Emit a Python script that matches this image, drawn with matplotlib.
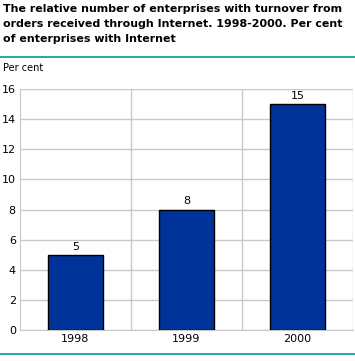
import matplotlib.pyplot as plt
from matplotlib.lines import Line2D

years = ['1998', '1999', '2000']
values = [5, 8, 15]
yticks = [0, 2, 4, 6, 8, 10, 12, 14, 16]

title = ('The relative number of enterprises with turnover from\n'
         'orders received through Internet. 1998-2000. Per cent\n'
         'of enterprises with Internet')

W, H = 355, 361
fig = plt.figure(figsize=(W / 100, H / 100), dpi=100)

ax = fig.add_axes([20 / W, 1 - 330 / H, 333 / W, (330 - 89) / H])
x = range(len(years))
bars = ax.bar(x, values, width=0.5, color='#003399', edgecolor='black', linewidth=1, zorder=3)
for b, v in zip(bars, values):
    ax.text(b.get_x() + b.get_width() / 2, v + 0.2, str(v), ha='center', va='bottom', fontsize=8)

ax.set_xlim(-0.5, len(years) - 0.5)
ax.set_ylim(0, 16)
ax.set_yticks(yticks)
ax.set_xticks(list(x))
ax.set_xticklabels(years)
ax.set_xticks([0.5, 1.5, 2.5], minor=True)
ax.grid(axis='y', color='#c8c8c8', linewidth=1, zorder=0)
ax.grid(axis='x', which='minor', color='#c8c8c8', linewidth=1, zorder=0)
ax.tick_params(which='both', length=0, labelsize=8, pad=3)
for s in ['top', 'right']:
    ax.spines[s].set_visible(False)
for s in ['left', 'bottom']:
    ax.spines[s].set_color('#c8c8c8')

fig.text(3 / W, 1 - 4 / H, title, ha='left', va='top', fontsize=7.9, fontweight='bold', linespacing=1.65)
fig.text(3 / W, 1 - 68 / H, 'Per cent', ha='left', va='center', fontsize=7)

teal = '#009999'
fig.add_artist(Line2D([0, 1], [1 - 57 / H] * 2, color=teal, linewidth=1.2))
fig.add_artist(Line2D([0, 1], [1 - 354 / H] * 2, color=teal, linewidth=1.2))

fig.savefig('out.png', dpi=100)
